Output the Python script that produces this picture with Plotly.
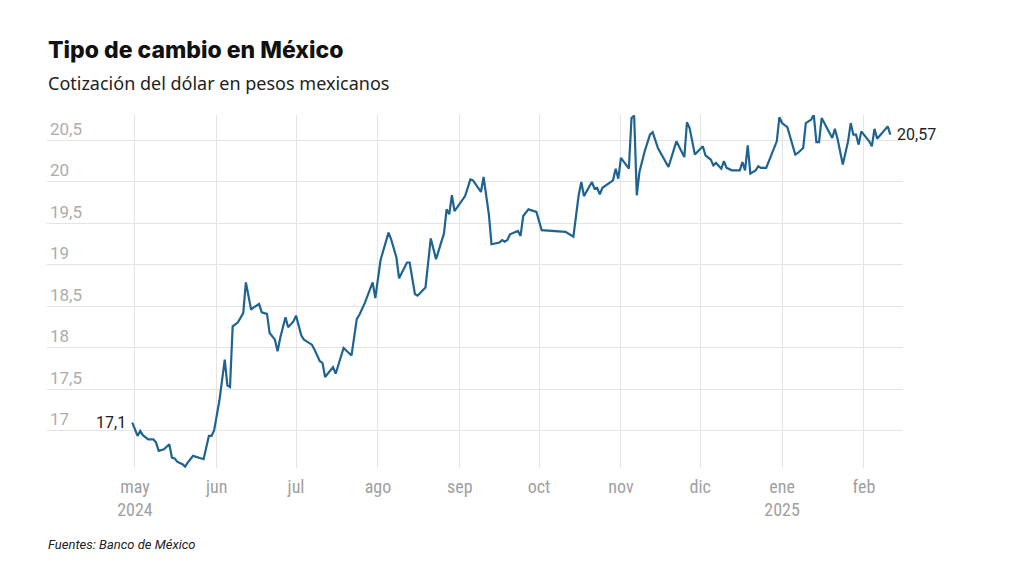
import plotly.graph_objects as go

dates = [
    "2024-04-30", "2024-05-02", "2024-05-03", "2024-05-04", "2024-05-06", "2024-05-08", "2024-05-09",
    "2024-05-10", "2024-05-12", "2024-05-14", "2024-05-15", "2024-05-16", "2024-05-17", "2024-05-19",
    "2024-05-20", "2024-05-21", "2024-05-23", "2024-05-25", "2024-05-27", "2024-05-29", "2024-05-30",
    "2024-05-31", "2024-06-02", "2024-06-04", "2024-06-05", "2024-06-06", "2024-06-07", "2024-06-09",
    "2024-06-11", "2024-06-12", "2024-06-14", "2024-06-15", "2024-06-17", "2024-06-18", "2024-06-20",
    "2024-06-21", "2024-06-23", "2024-06-24", "2024-06-25", "2024-06-27", "2024-06-28", "2024-06-30",
    "2024-07-01", "2024-07-03", "2024-07-04", "2024-07-05", "2024-07-07", "2024-07-08", "2024-07-10",
    "2024-07-11", "2024-07-12", "2024-07-15", "2024-07-16", "2024-07-19", "2024-07-22", "2024-07-24",
    "2024-07-25", "2024-07-27", "2024-07-30", "2024-07-31", "2024-08-02", "2024-08-05", "2024-08-06",
    "2024-08-08", "2024-08-09", "2024-08-12", "2024-08-13", "2024-08-15", "2024-08-16", "2024-08-19",
    "2024-08-21", "2024-08-23", "2024-08-26", "2024-08-27", "2024-08-28", "2024-08-29", "2024-08-30",
    "2024-09-03", "2024-09-05", "2024-09-06", "2024-09-09", "2024-09-10", "2024-09-12", "2024-09-13",
    "2024-09-16", "2024-09-17", "2024-09-18", "2024-09-19", "2024-09-20", "2024-09-23", "2024-09-24",
    "2024-09-25", "2024-09-27", "2024-09-30", "2024-10-02", "2024-10-11", "2024-10-14", "2024-10-16",
    "2024-10-17", "2024-10-18", "2024-10-21", "2024-10-22", "2024-10-23", "2024-10-24", "2024-10-25",
    "2024-10-29", "2024-10-30", "2024-10-31", "2024-11-01", "2024-11-04", "2024-11-05", "2024-11-06",
    "2024-11-07", "2024-11-08", "2024-11-10", "2024-11-12", "2024-11-13", "2024-11-15", "2024-11-19",
    "2024-11-22", "2024-11-25", "2024-11-26", "2024-11-27", "2024-11-29", "2024-12-02", "2024-12-03",
    "2024-12-05", "2024-12-06", "2024-12-07", "2024-12-09", "2024-12-10", "2024-12-11", "2024-12-13",
    "2024-12-16", "2024-12-17", "2024-12-18", "2024-12-19", "2024-12-20", "2024-12-22", "2024-12-23",
    "2024-12-24", "2024-12-26", "2024-12-28", "2024-12-30", "2024-12-31", "2025-01-01", "2025-01-03",
    "2025-01-06", "2025-01-07", "2025-01-09", "2025-01-10", "2025-01-12", "2025-01-13", "2025-01-14",
    "2025-01-15", "2025-01-16", "2025-01-17", "2025-01-19", "2025-01-20", "2025-01-21", "2025-01-22",
    "2025-01-24", "2025-01-26", "2025-01-27", "2025-01-28", "2025-01-29", "2025-01-30", "2025-01-31",
    "2025-02-03", "2025-02-04", "2025-02-05", "2025-02-06", "2025-02-08", "2025-02-10", "2025-02-11",
]

rates = [
    17.10, 16.94, 17.00, 16.95, 16.90, 16.90, 16.86,
    16.76, 16.78, 16.84, 16.68, 16.67, 16.63, 16.60,
    16.57, 16.62, 16.70, 16.68, 16.66, 16.94, 16.94,
    17.01, 17.37, 17.86, 17.55, 17.53, 18.26, 18.31,
    18.42, 18.79, 18.46, 18.49, 18.53, 18.43, 18.41,
    18.18, 18.10, 17.96, 18.12, 18.37, 18.25, 18.32,
    18.39, 18.15, 18.10, 18.08, 18.04, 17.98, 17.84,
    17.82, 17.65, 17.77, 17.69, 18.00, 17.91, 18.35,
    18.40, 18.54, 18.79, 18.60, 19.06, 19.39, 19.31,
    19.09, 18.84, 19.03, 19.03, 18.65, 18.63, 18.73,
    19.32, 19.07, 19.38, 19.67, 19.61, 19.84, 19.65,
    19.83, 20.03, 20.02, 19.88, 20.06, 19.61, 19.25,
    19.27, 19.30, 19.28, 19.30, 19.37, 19.41, 19.35,
    19.59, 19.67, 19.64, 19.42, 19.40, 19.34, 19.84,
    20.00, 19.83, 20.00, 19.92, 19.93, 19.85, 19.93,
    20.02, 20.16, 20.04, 20.29, 20.16, 20.77, 20.80,
    19.84, 20.12, 20.37, 20.57, 20.60, 20.41, 20.18,
    20.49, 20.30, 20.72, 20.65, 20.33, 20.43, 20.32,
    20.27, 20.20, 20.23, 20.16, 20.25, 20.17, 20.14,
    20.14, 20.24, 20.14, 20.44, 20.10, 20.14, 20.19,
    20.17, 20.17, 20.33, 20.49, 20.78, 20.71, 20.66,
    20.33, 20.35, 20.41, 20.71, 20.75, 20.81, 20.48,
    20.48, 20.77, 20.71, 20.60, 20.53, 20.64, 20.52,
    20.21, 20.49, 20.71, 20.57, 20.57, 20.45, 20.61,
    20.49, 20.43, 20.64, 20.52, 20.59, 20.67, 20.57,
]

month_ticks = ["2024-05-01", "2024-06-01", "2024-07-01", "2024-08-01", "2024-09-01",
               "2024-10-01", "2024-11-01", "2024-12-01", "2025-01-01", "2025-02-01"]
month_labels = ["may<br>2024", "jun", "jul", "ago", "sep", "oct", "nov", "dic", "ene<br>2025", "feb"]
y_ticks = [17, 17.5, 18, 18.5, 19, 19.5, 20, 20.5]

title_text = "Tipo de cambio en México"
subtitle_text = "Cotización del dólar en pesos mexicanos"
source_text = "Fuentes: Banco de México"

LINE = "#1f6391"
GRID = "#e4e4e4"
COND = "Roboto Condensed, Liberation Sans Narrow, Roboto"

fig = go.Figure()
fig.add_trace(go.Scatter(
    x=dates, y=rates, mode="lines",
    line=dict(color=LINE, width=2.2),
    hoverinfo="skip", showlegend=False,
))

# Plot area in pixels: x 47..903, y 115..468
L, R, T, B = 47, 903, 115, 468
W, H = 1024, 576


def px(xp):
    return (xp - L) / (R - L)


def py(yp):
    return (B - yp) / (B - T)


fig.update_layout(
    width=W, height=H,
    margin=dict(l=L, r=W - R, t=T, b=H - B, pad=0),
    paper_bgcolor="white", plot_bgcolor="white",
    separators=",.",
    showlegend=False,
    font=dict(family="Roboto, Noto Sans, sans-serif"),
    xaxis=dict(
        type="date",
        range=["2024-03-28 17:00", "2025-02-15 19:00"],
        tickvals=month_ticks, ticktext=month_labels,
        showgrid=True, gridcolor=GRID, gridwidth=1,
        showline=False, zeroline=False, ticks="",
        ticklabelstandoff=6,
        tickfont=dict(family=COND, size=18, color="#a0a0a0"),
        fixedrange=True,
    ),
    yaxis=dict(
        range=[16.554, 20.807],
        tickvals=y_ticks,
        showgrid=True, gridcolor=GRID, gridwidth=1,
        showline=False, zeroline=False, ticks="",
        ticklabelposition="inside top",
        tickfont=dict(family="Roboto, Noto Sans, sans-serif", size=17, color="#acacac"),
        fixedrange=True,
    ),
)

annotations = [
    dict(text=title_text, x=px(46), y=py(50), xref="paper", yref="paper",
         xanchor="left", yanchor="middle", showarrow=False,
         font=dict(family="Inter, Roboto, sans-serif", size=23, color="#111111", weight=800)),
    dict(text=subtitle_text, x=px(46), y=py(83), xref="paper", yref="paper",
         xanchor="left", yanchor="middle", showarrow=False,
         font=dict(family="Noto Sans, Roboto, sans-serif", size=18, color="#222222")),
    dict(text=source_text, x=px(46), y=py(544), xref="paper", yref="paper",
         xanchor="left", yanchor="middle", showarrow=False,
         font=dict(family="Roboto, sans-serif", size=13, color="#222222", style="italic")),
    dict(text=f"{rates[0]:.1f}".replace(".", ","), x=dates[0], y=rates[0], xref="x", yref="y",
         xanchor="right", yanchor="middle", xshift=-4, showarrow=False,
         font=dict(family="Roboto, sans-serif", size=16, color="#222222")),
    dict(text=f"{rates[-1]:.2f}".replace(".", ","), x=dates[-1], y=rates[-1], xref="x", yref="y",
         xanchor="left", yanchor="middle", xshift=5, showarrow=False,
         font=dict(family="Roboto, sans-serif", size=16, color="#222222")),
]
fig.update_layout(annotations=annotations)

fig.write_html("out.html", include_plotlyjs=True, config={"displayModeBar": False})
